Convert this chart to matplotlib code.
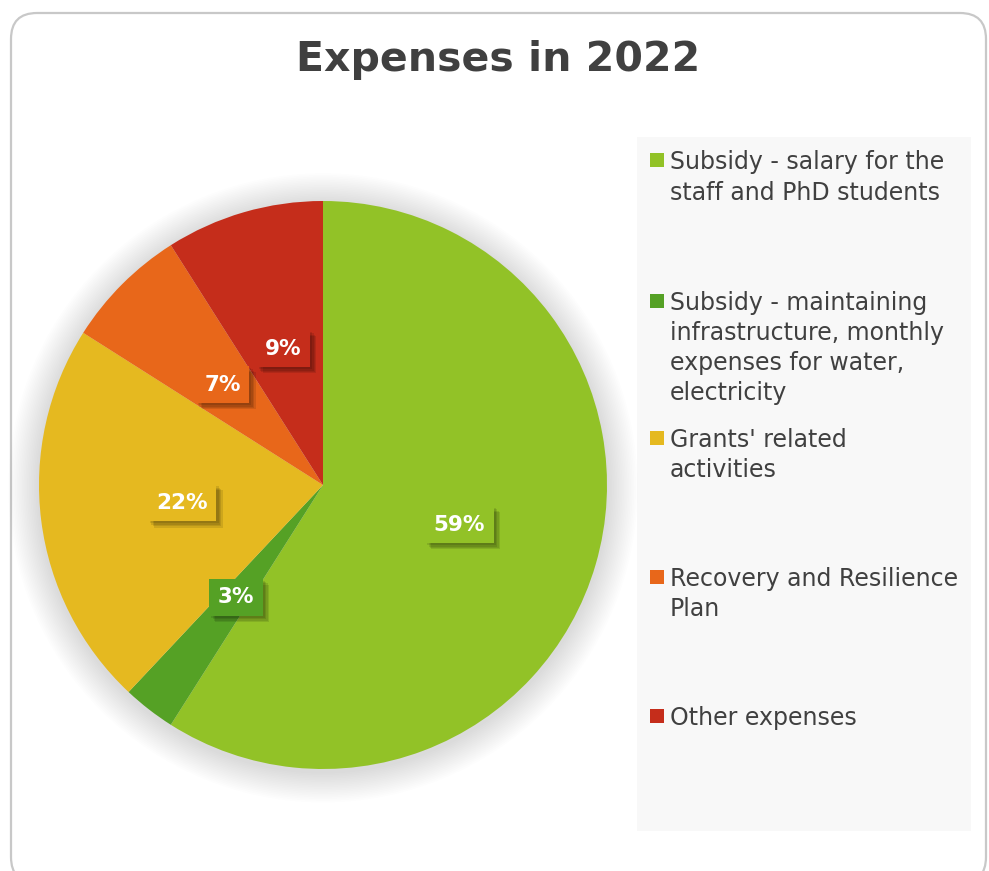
import matplotlib
matplotlib.use('Agg')
import matplotlib.pyplot as plt
import matplotlib.patheffects as pe
from matplotlib.patches import FancyBboxPatch, Rectangle, Circle

# expense shares in percent, clockwise from 12 o'clock
categories = ['Subsidy - salary for the\nstaff and PhD students',
              'Subsidy - maintaining\ninfrastructure, monthly\nexpenses for water,\nelectricity',
              "Grants' related\nactivities",
              'Recovery and Resilience\nPlan',
              'Other expenses']
shares = [59, 3, 22, 7, 9]
colors = ['#92c227', '#55a125', '#e5b920', '#e8671a', '#c52d1b']

W, H = 989, 871
txt = '#404040'
plt.rcParams['font.family'] = ['DejaVu Sans']

fig = plt.figure(figsize=(W / 100, H / 100), dpi=100)
fig.patch.set_facecolor('white')

# background layer in pixel coords (y down)
bg = fig.add_axes([0, 0, 1, 1])
bg.set_xlim(0, W)
bg.set_ylim(H, 0)
bg.axis('off')
bg.add_patch(FancyBboxPatch((11, 13), 975, 870, boxstyle='round,pad=0,rounding_size=26',
                            fc='white', ec='#c8c8c8', lw=1.6))
bg.add_patch(Rectangle((637, 137), 334, 694, fc='#f8f8f8', ec='none'))
bg.text(498, 60, 'Expenses in 2022', fontsize=29.5, fontweight='bold', color=txt,
        ha='center', va='center')

# legend, one block per category
baselines = [169.5, 309.5, 446.5, 585.5, 724.5]
for lab, col, yb in zip(categories, colors, baselines):
    bg.add_patch(Rectangle((650, yb - 16), 14, 14, fc=col, ec='none'))
    for i, line in enumerate(lab.split('\n')):
        bg.text(670, yb + 30 * i, line, fontsize=17, color=txt, ha='left', va='baseline')

# pie
ax = fig.add_axes([39 / W, (H - 769) / H, 568 / W, 568 / H])
ax.set_xlim(-1, 1)
ax.set_ylim(-1, 1)
ax.axis('off')

# soft drop shadow around the pie
for k in range(18):
    r = 1.0 + 0.006 * (k + 1)
    ax.add_patch(Circle((0.0, -0.01), r, fc='#000000', ec='none', alpha=0.006,
                        clip_on=False, zorder=0))

wedges, texts, autotexts = ax.pie(
    shares, colors=colors, startangle=90, counterclock=False, radius=1,
    autopct=lambda p: f'{p:.0f}%', pctdistance=0.5,
    wedgeprops=dict(linewidth=0),
    textprops=dict(color='white', fontsize=15.5, fontweight='bold'))

for t, col in zip(autotexts, colors):
    t.set_bbox(dict(boxstyle='square,pad=0.4', fc=col, ec='none'))
    t.get_bbox_patch().set_path_effects(
        [pe.SimplePatchShadow(offset=(d, -d), shadow_rgbFace='black', alpha=0.1)
         for d in (1.5, 2.5, 3.5, 4.5)] + [pe.Normal()])
    t.set_zorder(5)

ax.set_xlim(-1, 1)
ax.set_ylim(-1, 1)

fig.savefig('out.png', dpi=100, facecolor='white')
